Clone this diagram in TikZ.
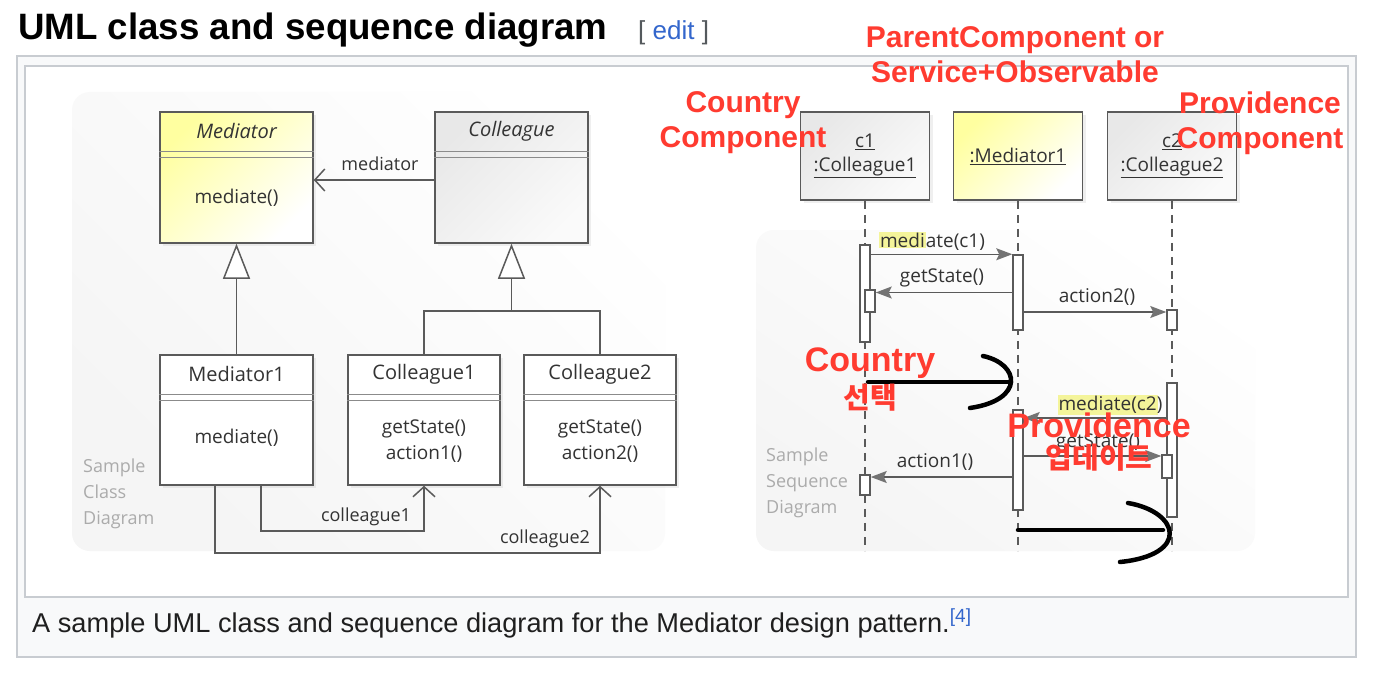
\documentclass[tikz,border=0pt]{standalone}
\usepackage{fontspec}
\setmainfont{Liberation Sans}
\newfontfamily\umlfont{Open Sans}
\newfontfamily\krfont{Noto Sans CJK KR}
\usetikzlibrary{arrows.meta, positioning, calc, shadows}
\definecolor{wikiborder}{HTML}{C8CCD1}
\definecolor{wikibg}{HTML}{F8F9FA}
\definecolor{wikiblue}{HTML}{3366CC}
\definecolor{wikigray}{HTML}{54595D}
\definecolor{umlline}{HTML}{5A5A5A}
\definecolor{umlyellow}{HTML}{FFFFA0}
\definecolor{hiyellow}{HTML}{F4F49A}
\definecolor{notered}{HTML}{FF3B30}
\tikzset{
  umlbox/.style={draw=umlline, line width=1.5pt, inner sep=0pt, fill=white,
    minimum width=153pt, minimum height=131pt,
    drop shadow={shadow xshift=3pt, shadow yshift=-3pt, opacity=0.12}},
  lifebox/.style={umlbox, minimum width=129pt, minimum height=88pt, align=center,
    font=\umlfont\fontsize{19}{24}\selectfont, text=black!80},
  shadeyellow/.style={top color=umlyellow, bottom color=white, shading angle=45},
  shadegray/.style={top color=black!9, bottom color=black!2, shading angle=45},
  sepline/.style={draw=umlline!70, line width=1pt},
  umltext/.style={font=\umlfont\fontsize{19}{26}\selectfont, text=black!80,
    inner sep=0pt, align=center},
  umlname/.style={umltext, font=\umlfont\fontsize{20}{26}\selectfont},
  umlabstract/.style={umltext, font=\umlfont\itshape\fontsize{20}{26}\selectfont},
  sampletext/.style={font=\umlfont\fontsize{18}{26}\selectfont, text=black!33,
    inner sep=0pt, align=left, anchor=west},
  plainline/.style={draw=umlline, line width=1.5pt},
  inherit/.style={plainline, -{Triangle[length=35pt, width=27pt, fill=white]}},
  assoc/.style={plainline, -{Straight Barb[length=10pt, width=22pt]}},
  lifeline/.style={draw=umlline, line width=1.5pt, dash pattern=on 8pt off 6pt},
  actbar/.style={draw=umlline, line width=1.5pt, fill=white, inner sep=0pt,
    minimum width=10pt},
  msg/.style={plainline, -{Stealth[length=16pt, width=12pt, inset=3pt, color=black!55]}},
  notered/.style={font=\bfseries\fontsize{30}{35}\selectfont, text=notered,
    align=center, inner sep=0pt},
  noteredbig/.style={notered, font=\bfseries\fontsize{34}{38}\selectfont},
  notekr/.style={notered, font=\krfont\bfseries\fontsize{29}{31}\selectfont},
  handmark/.style={draw=black, line width=4.5pt, line cap=round},
}

\begin{document}
\begin{tikzpicture}[x=1pt, y=-1pt]
  \useasboundingbox (0,0) rectangle (1374,674);
  % page heading and frame
  \node[anchor=base west, inner sep=0pt, font=\bfseries\fontsize{36.7}{40}\selectfont] (title) at (18,40) {UML class and sequence diagram};
  \node[anchor=base west, inner sep=0pt, font=\fontsize{26}{30}\selectfont, text=wikigray] (edit) at (638,40) {[ \textcolor{wikiblue}{edit} ]};
  \draw[wikiborder, fill=wikibg, line width=2pt] (17,56) rectangle (1356,657);
  \draw[wikiborder, fill=white, line width=2pt] (25,66) rectangle (1348,597);
  \node[anchor=base west, inner sep=0pt, font=\fontsize{27.2}{30}\selectfont, text=black!88] (caption) at (32,632)
    {A sample UML class and sequence diagram for the Mediator design pattern.\textsuperscript{\textcolor{wikiblue}{[4]}}};

  % faint panels behind both diagrams
  \shade[top color=white, bottom color=black!4, shading angle=-45, rounded corners=18pt] (72,92) rectangle (665,551);
  \shade[top color=white, bottom color=black!4, shading angle=-35, rounded corners=18pt] (756,230) rectangle (1255,551);

  % class diagram
  \node[umlbox, shadeyellow] (med) at (236.5,177.5) {};
  \node[umlbox, shadegray] (col) at (511.5,177.5) {};
  \node[umlbox, minimum height=130pt] (med1) at (236.5,420) {};
  \node[umlbox, minimum height=130pt, minimum width=152pt] (col1) at (424,420) {};
  \node[umlbox, minimum height=130pt, minimum width=152pt] (col2) at (600,420) {};
  \foreach \b in {med,col,med1,col1,col2}{
    \draw[sepline] ([yshift=-40pt]\b.north west) -- ([yshift=-40pt]\b.north east);
    \draw[sepline] ([yshift=-46pt]\b.north west) -- ([yshift=-46pt]\b.north east);
  }
  \node[umlabstract] (medname) at ([yshift=-20pt]med.north) {Mediator};
  \node[umltext] (medop) at ([yshift=-20pt]med.center) {mediate()};
  \node[umlabstract] (colname) at ([yshift=-20pt]col.north) {Colleague};
  \node[umlname] (med1name) at ([yshift=-20pt]med1.north) {Mediator1};
  \node[umltext] (med1op) at ([yshift=-18pt]med1.center) {mediate()};
  \node[umlname] (col1name) at ([yshift=-20pt]col1.north) {Colleague1};
  \node[umltext] (col1op) at ([yshift=-21pt]col1.center) {getState()\\action1()};
  \node[umlname] (col2name) at ([yshift=-20pt]col2.north) {Colleague2};
  \node[umltext] (col2op) at ([yshift=-21pt]col2.center) {getState()\\action2()};

  \draw[assoc] ([yshift=-2.5pt]col.west) -- ([yshift=-2.5pt]col.west -| med.east);
  \node[umltext, font=\umlfont\fontsize{18}{22}\selectfont] (lmed) at (380,164) {mediator};
  \draw[inherit] (med1.north) -- (med.south);
  \coordinate (join) at (511.5,311);
  \draw[plainline] (col1.north) |- (join) -| (col2.north);
  \draw[inherit] (join) -- (col.south);
  \draw[assoc] ([xshift=24.5pt]med1.south) -- ++(0,45) -| (col1.south);
  \draw[assoc] ([xshift=-21.5pt]med1.south) -- ++(0,67) -| (col2.south);
  \node[umltext, font=\umlfont\fontsize{18}{22}\selectfont] (lcol1) at (366,517) {colleague1};
  \node[umltext, font=\umlfont\fontsize{18}{22}\selectfont] (lcol2) at (545,539) {colleague2};
  \node[sampletext] (sclass) at (83,494) {Sample\\Class\\Diagram};

  % sequence diagram
  \node[lifebox, shadegray] (life1) at (865,156) {\underline{c1}\\\underline{:Colleague1}};
  \node[lifebox, shadeyellow] (lifem) at (1018,156) {\underline{:Mediator1}};
  \node[lifebox, shadegray] (life2) at (1172,156) {\underline{c2}\\\underline{:Colleague2}};
  \foreach \l in {life1,lifem,life2}
    \draw[lifeline] (\l.south) -- ++(0,350);
  \node[sampletext] (sseq) at (766,483) {Sample\\Sequence\\Diagram};

  \node[actbar, minimum height=97pt] (a1) at (865,293.5) {};
  \node[actbar, minimum height=22pt] (a1b) at (870,301) {};
  \node[actbar, minimum height=75pt] (am) at (1018,292.5) {};
  \node[actbar, minimum height=20pt] (a2) at (1172,320) {};
  \node[actbar, minimum height=134pt] (a2c) at (1172,450) {};
  \node[actbar, minimum height=23pt] (a2d) at (1167,466.5) {};
  \node[actbar, minimum height=100pt] (amb) at (1018,460) {};
  \node[actbar, minimum height=20pt] (a1c) at (865,485) {};

  \draw[msg] ([yshift=-10pt]a1.north east) -- (am.north west);
  \draw[msg] (am.west) -- ([yshift=8.5pt]a1b.east);
  \draw[msg] ([yshift=-19.5pt]am.east) -- ([yshift=8pt]a2.west);
  \draw[msg] ([yshift=32pt]a2c.west) -- ([yshift=42pt]amb.east);
  \draw[msg] ([yshift=4pt]amb.east) -- ([yshift=10.5pt]a2d.west);
  \draw[msg] ([yshift=-17pt]amb.west) -- ([yshift=8pt]a1c.east);
  \node[umltext] (lm1) at (932,241) {\setlength{\fboxsep}{1pt}\colorbox{hiyellow}{medi}ate(c1)};
  \node[umltext] (lm2) at (942,278) {getState()};
  \node[umltext] (lm3) at (1097,297) {action2()};
  \node[umltext] (lm4) at (1110,405) {\setlength{\fboxsep}{1pt}\colorbox{hiyellow}{mediate(c2}\kern-1pt)};
  \node[umltext] (lm5) at (1098,443) {getState()};
  \node[umltext] (lm6) at (935,462) {action1()};

  % hand-drawn marks
  \draw[handmark] (868,382) -- (1010,382);
  \draw[handmark] (983,356) .. controls (1020,364) and (1025,400) .. (970,408);
  \draw[handmark] (1018,530) -- (1163,530);
  \draw[handmark] (1128,503) .. controls (1180,512) and (1190,555) .. (1120,562);

  % red notes
  \node[notered] (nparent) at (1015,55) {ParentComponent or\\Service+Observable};
  \node[notered] (ncountry) at (743,123) {Country\\Component};
  \node[notered] (nprov) at (1260,123) {Providence\\Component};
  \node[noteredbig] (ncsel) at (870,363) {Country};
  \node[notekr, below=5pt of ncsel] (ncselkr) {선택};
  \node[noteredbig] (npupd) at (1099,425) {Providence};
  \node[notekr, below=6pt of npupd] (npupdkr) {업데이트};
\end{tikzpicture}
\end{document}
